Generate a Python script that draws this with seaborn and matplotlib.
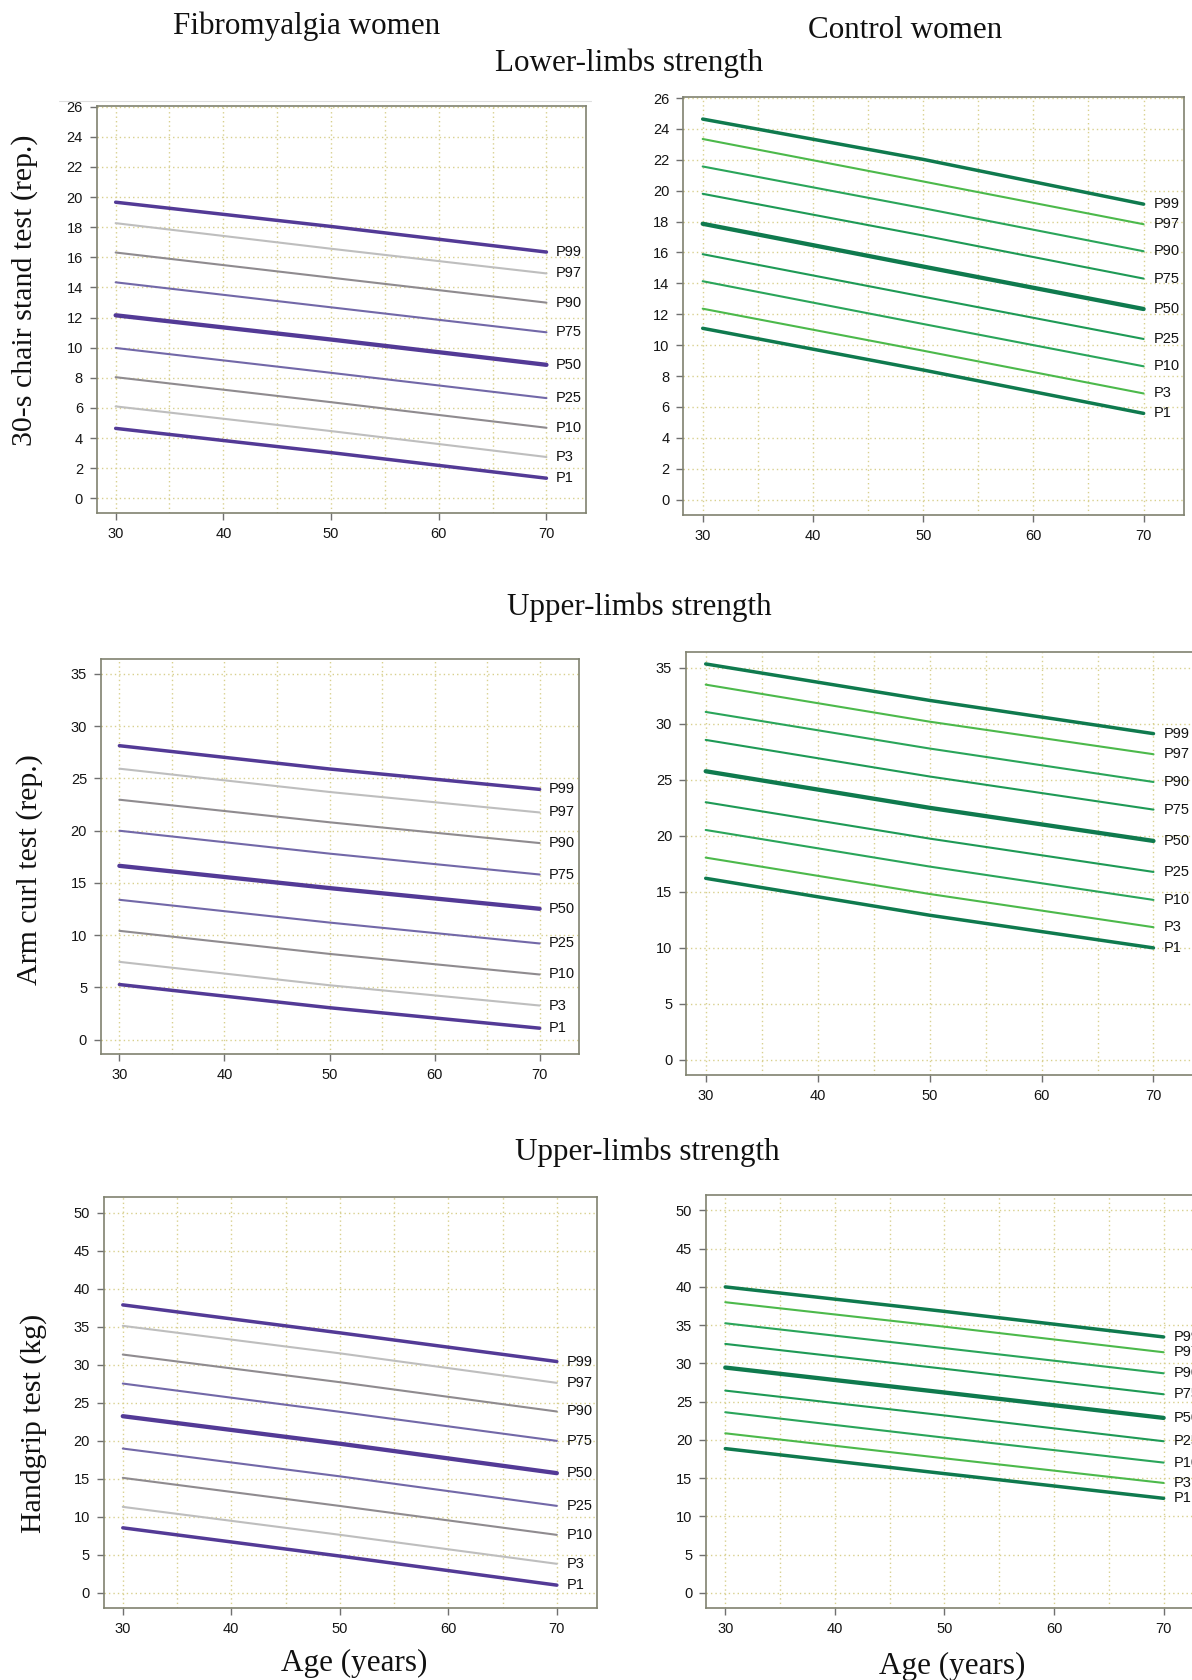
import numpy as np
import pandas as pd
import matplotlib
matplotlib.use("Agg")
import matplotlib.pyplot as plt
from matplotlib.lines import Line2D
from matplotlib.ticker import FixedLocator
import seaborn as sns

# ---------------------------------------------------------------------------
# Percentile curves (values at ages 30, 50 and 70 years)
# ---------------------------------------------------------------------------
AGES = [30, 50, 70]
PERCENTILES = ["P99", "P97", "P90", "P75", "P50", "P25", "P10", "P3", "P1"]

# 30-s chair stand test (rep.)
FM_CHAIR_30 = [19.66, 18.27, 16.32, 14.34, 12.15, 9.98, 8.04, 6.10, 4.64]
FM_CHAIR_50 = [18.05, 16.57, 14.65, 12.68, 10.54, 8.33, 6.38, 4.46, 3.03]
FM_CHAIR_70 = [16.35, 14.93, 12.99, 11.02, 8.86, 6.65, 4.68, 2.74, 1.33]
CW_CHAIR_30 = [24.64, 23.35, 21.57, 19.80, 17.86, 15.89, 14.14, 12.36, 11.09]
CW_CHAIR_50 = [22.03, 20.60, 18.87, 17.10, 15.09, 13.14, 11.37, 9.64, 8.39]
CW_CHAIR_70 = [19.13, 17.83, 16.08, 14.31, 12.34, 10.40, 8.63, 6.87, 5.58]

# Arm curl test (rep.)
FM_ARM_30 = [28.13, 25.93, 22.96, 19.99, 16.63, 13.38, 10.41, 7.44, 5.27]
FM_ARM_50 = [25.90, 23.70, 20.80, 17.80, 14.50, 11.20, 8.20, 5.20, 3.05]
FM_ARM_70 = [23.95, 21.74, 18.81, 15.80, 12.52, 9.20, 6.23, 3.26, 1.09]
CW_ARM_30 = [35.36, 33.51, 31.07, 28.57, 25.77, 23.00, 20.52, 18.05, 16.20]
CW_ARM_50 = [32.10, 30.20, 27.80, 25.30, 22.50, 19.75, 17.25, 14.80, 12.90]
CW_ARM_70 = [29.13, 27.29, 24.81, 22.34, 19.54, 16.77, 14.27, 11.83, 9.98]

# Handgrip test (kg)
FM_GRIP_30 = [37.88, 35.12, 31.34, 27.52, 23.22, 18.96, 15.10, 11.28, 8.52]
FM_GRIP_50 = [34.20, 31.50, 27.70, 23.80, 19.60, 15.30, 11.40, 7.60, 4.80]
FM_GRIP_70 = [30.42, 27.61, 23.84, 19.97, 15.72, 11.41, 7.59, 3.78, 0.97]
CW_GRIP_30 = [40.00, 38.00, 35.25, 32.55, 29.46, 26.45, 23.62, 20.87, 18.87]
CW_GRIP_50 = [36.80, 34.80, 32.00, 29.30, 26.20, 23.20, 20.30, 17.60, 15.60]
CW_GRIP_70 = [33.46, 31.46, 28.71, 25.97, 22.88, 19.83, 17.04, 14.38, 12.37]

# ---------------------------------------------------------------------------
# Styling
# ---------------------------------------------------------------------------
sns.set_theme(style="white")
plt.rcParams["font.family"] = ["Liberation Sans", "DejaVu Sans"]
SERIF = ["Liberation Serif", "DejaVu Serif"]

W, H = 1192, 1680
fig = plt.figure(figsize=(W / 100, H / 100), dpi=100)
fig.patch.set_facecolor("white")

FM_PAL = {"P99": "#533a96", "P97": "#bebebe", "P90": "#8f8b8f", "P75": "#7268a8",
          "P50": "#533a96", "P25": "#7268a8", "P10": "#8f8b8f", "P3": "#bebebe",
          "P1": "#533a96"}
CW_PAL = {"P99": "#0f7a4e", "P97": "#4cb94b", "P90": "#2aa55a", "P75": "#1e9a56",
          "P50": "#0f7a4e", "P25": "#1e9a56", "P10": "#2aa55a", "P3": "#4cb94b",
          "P1": "#0f7a4e"}
WIDTHS = {"P99": 2.5, "P97": 1.5, "P90": 1.5, "P75": 1.5, "P50": 3.1,
          "P25": 1.5, "P10": 1.5, "P3": 1.5, "P1": 2.5}

XLIM = (28.25, 73.7)


def add_axes_px(left, top, right, bottom):
    return fig.add_axes([left / W, 1 - bottom / H, (right - left) / W, (bottom - top) / H])


def draw_panel(ax, v30, v50, v70, palette, ylim, yticks):
    rows = []
    for i, p in enumerate(PERCENTILES):
        for age, val in zip(AGES, (v30[i], v50[i], v70[i])):
            rows.append({"age": age, "value": val, "pct": p})
    df = pd.DataFrame(rows)
    sns.lineplot(data=df, x="age", y="value", hue="pct", palette=palette,
                 size="pct", sizes=WIDTHS, estimator=None, legend=False,
                 ax=ax, zorder=3)
    for i, p in enumerate(PERCENTILES):
        ax.text(70.9, v70[i], p, ha="left", va="center", fontsize=10.5,
                color="#111111", clip_on=False)

    ax.set_xlim(*XLIM)
    ax.set_ylim(*ylim)
    ax.set_xticks([30, 40, 50, 60, 70])
    ax.xaxis.set_minor_locator(FixedLocator([35, 45, 55, 65]))
    ax.set_yticks(yticks)
    ax.set_xlabel("")
    ax.set_ylabel("")
    grid_kw = dict(color="#d8d08e", linestyle=(0, (1, 2.2)), linewidth=1.0)
    ax.grid(True, which="both", axis="x", **grid_kw)
    ax.grid(True, which="major", axis="y", **grid_kw)
    ax.set_axisbelow(True)
    for sp in ax.spines.values():
        sp.set_color("#808270")
        sp.set_linewidth(1.2)
    ax.tick_params(which="major", bottom=True, left=True, direction="out",
                   length=5, width=1, color="#707070", labelsize=10.5,
                   labelcolor="#151515", pad=5)
    ax.tick_params(which="minor", length=0)


# Row 1: lower-limbs strength
ax = add_axes_px(96.8, 106.0, 586.3, 513.3)
draw_panel(ax, FM_CHAIR_30, FM_CHAIR_50, FM_CHAIR_70, FM_PAL, (-1.0, 26.05), range(0, 27, 2))
ax = add_axes_px(683.4, 97.3, 1184.4, 515.0)
draw_panel(ax, CW_CHAIR_30, CW_CHAIR_50, CW_CHAIR_70, CW_PAL, (-1.0, 26.05), range(0, 27, 2))

# Row 2: upper-limbs strength (arm curl)
ax = add_axes_px(101.0, 659.3, 578.5, 1054.0)
draw_panel(ax, FM_ARM_30, FM_ARM_50, FM_ARM_70, FM_PAL, (-1.38, 36.4), range(0, 36, 5))
ax = add_axes_px(686.1, 652.3, 1194.9, 1075.0)
draw_panel(ax, CW_ARM_30, CW_ARM_50, CW_ARM_70, CW_PAL, (-1.38, 36.4), range(0, 36, 5))

# Row 3: upper-limbs strength (handgrip)
ax = add_axes_px(103.8, 1197.3, 597.0, 1607.7)
draw_panel(ax, FM_GRIP_30, FM_GRIP_50, FM_GRIP_70, FM_PAL, (-2.0, 52.05), range(0, 51, 5))
ax = add_axes_px(706.1, 1194.7, 1204.2, 1608.3)
draw_panel(ax, CW_GRIP_30, CW_GRIP_50, CW_GRIP_70, CW_PAL, (-2.0, 52.05), range(0, 51, 5))

# thin rule above the first panel
fig.add_artist(Line2D([59 / W, 591 / W], [1 - 100.7 / H] * 2, color="#dedede",
                      linewidth=0.8, transform=fig.transFigure))


def ftext(x, y, s, size, rotation=0):
    fig.text(x / W, 1 - y / H, s, ha="center", va="center", fontsize=size,
             family=SERIF, rotation=rotation, color="#111111")


ftext(307, 26, "Fibromyalgia women", 22.4)
ftext(905, 31, "Control women", 22.4)
ftext(629, 63, "Lower-limbs strength", 22.4)
ftext(639, 607, "Upper-limbs strength", 22.4)
ftext(647, 1152, "Upper-limbs strength", 22.4)
ftext(354, 1663, "Age (years)", 22.4)
ftext(952, 1666, "Age (years)", 22.4)
ftext(25, 290, "30-s chair stand test (rep.)", 21.5, rotation=90)
ftext(30, 870, "Arm curl test (rep.)", 21.5, rotation=90)
ftext(34, 1423, "Handgrip test (kg)", 21.5, rotation=90)

fig.savefig("out.png", dpi=100)
